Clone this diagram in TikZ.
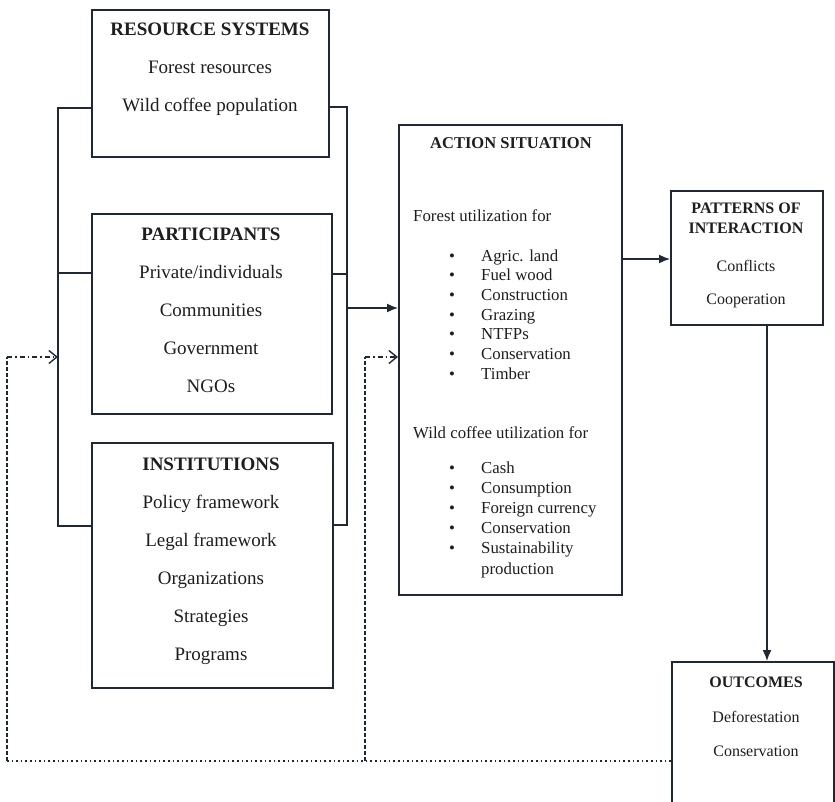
\documentclass[tikz,border=0pt]{standalone}
\usepackage{fontspec}
\setmainfont{Liberation Serif}
\usepackage{tikz}
\usetikzlibrary{%
  arrows.meta,
  positioning,
  calc
}
\definecolor{inkline}{HTML}{1E2935}
\definecolor{inktext}{HTML}{1E1E1E}
\tikzset{
  box/.style={
    draw=inkline,
    line width=1.5pt,
    rectangle,
    anchor=north west,
    inner sep=0pt,
  },
  bigtxt/.style={
    anchor=base, inner sep=0pt, align=center,
    font=\fontsize{19}{38}\selectfont,
  },
  midtxt/.style={
    anchor=base, inner sep=0pt, align=center,
    font=\fontsize{16}{20}\selectfont,
  },
  acttxt/.style={
    anchor=base west, inner sep=0pt,
    font=\fontsize{16.8}{20}\selectfont,
  },
  bul/.style={
    anchor=base, inner sep=0pt,
    font=\fontsize{16.8}{20}\selectfont,
  },
  link/.style={draw=inkline, line width=1.5pt},
  fbdot/.style={draw=inkline, line width=1.4pt, dash pattern=on 1.6pt off 3pt},
  fbdash/.style={draw=inkline, line width=1.4pt, dash pattern=on 4pt off 2pt},
  fbdashdot/.style={draw=inkline, line width=1.4pt,
    dash pattern=on 5pt off 3pt on 1.6pt off 3pt},
}

\begin{document}
\begin{tikzpicture}[x=1pt, y=-1pt, color=inktext]
    \useasboundingbox [fill=white] (0,0) rectangle (835,801);

    \node [box, minimum width=237pt, minimum height=147pt] (rs)   at ( 91,   9) {};
    \node [box, minimum width=240pt, minimum height=200pt] (part) at ( 91, 213) {};
    \node [box, minimum width=241pt, minimum height=245pt] (inst) at ( 91, 442) {};
    \node [box, minimum width=223pt, minimum height=470pt] (act)  at (398, 124) {};
    \node [box, minimum width=152pt, minimum height=134pt] (pat)  at (670, 190) {};
    \node [box, minimum width=162pt, minimum height=170pt] (out)  at (671, 661) {};

    \node [bigtxt] (rs-txt)   at (210, 111)
          {\textbf{RESOURCE SYSTEMS}\\Forest resources\\Wild coffee population};
    \node [bigtxt] (part-txt) at (211, 392)
          {\textbf{PARTICIPANTS}\\Private/individuals\\Communities\\Government\\NGOs};
    \node [bigtxt] (inst-txt) at (211, 660)
          {\textbf{INSTITUTIONS}\\Policy framework\\Legal framework\\Organizations\\Strategies\\Programs};

    \node [midtxt, font=\fontsize{16.5}{20}\selectfont] (act-title) at (511, 148)
          {\textbf{ACTION SITUATION}};
    \node [acttxt] (fu-head) at (413, 221) {Forest utilization for};
    \foreach \what [count=\i] in {Agric. land, Fuel wood, Construction, Grazing,
                                  NTFPs, Conservation, Timber} {
      \node [bul]    (fu-b\i) at (452, {261+19.7*(\i-1)}) {\textbullet};
      \node [acttxt] (fu-\i)  at (481, {261+19.7*(\i-1)}) {\what};
    }
    \node [acttxt] (wc-head) at (413, 438) {Wild coffee utilization for};
    \foreach \what [count=\i] in {Cash, Consumption, Foreign currency,
                                  Conservation, Sustainability} {
      \node [bul]    (wc-b\i) at (452, {473+20.2*(\i-1)}) {\textbullet};
      \node [acttxt] (wc-\i)  at (481, {473+20.2*(\i-1)}) {\what};
    }
    \node [acttxt] (wc-6) at (481, 574) {production};

    \node [midtxt] (pat-txt) at (746, 233.5)
          {\textbf{PATTERNS OF}\\\textbf{INTERACTION}};
    \node [midtxt] (pat-1) at (746, 271) {Conflicts};
    \node [midtxt] (pat-2) at (746, 304) {Cooperation};

    \node [midtxt] (out-txt) at (756, 687) {\textbf{OUTCOMES}};
    \node [midtxt] (out-1)   at (756, 722) {Deforestation};
    \node [midtxt] (out-2)   at (756, 756) {Conservation};

    \coordinate (lb1) at ( 58, 108);
    \coordinate (lb2) at ( 58, 273);
    \coordinate (lb3) at ( 58, 526);
    \coordinate (lbin) at ( 58, 357);
    \coordinate (rb1) at (347, 107);
    \coordinate (rb2) at (347, 274);
    \coordinate (rb3) at (347, 525);
    \coordinate (rbout) at (347, 308);
    \coordinate (dn)  at (767,   0);
    \coordinate (fbl) at (  7, 761);
    \coordinate (fbm) at (365, 761);
    \coordinate (fbin) at (365, 357);

    \draw [link] (rs.west |- lb1) -- (lb1) -- (lb3) -- (inst.west |- lb3);
    \draw [link] (part.west |- lb2) -- (lb2);
    \draw [link] (rs.east |- rb1) -- (rb1) -- (rb3) -- (inst.east |- rb3);
    \draw [link] (part.east |- rb2) -- (rb2);

    \begin{scope}[-{Latex[length=11pt, width=9pt]}]
      \draw [link] (rbout) -- (act.west |- rbout);
      \draw [link] (act.east |- 0, 259) -- (pat.west |- 0, 259);
      \draw [link] (pat.south -| dn) -- (out.north -| dn);
    \end{scope}

    \draw [fbdot] (out.west |- fbl) -- (fbl);
    \draw [fbdash] (fbl) -- (fbl |- lbin);
    \draw [fbdash] (fbm) -- (fbin);
    \begin{scope}[-{Straight Barb[length=8pt, width=13pt, line width=1.4pt]}]
      \draw [fbdashdot] (fbl |- lbin) -- (lbin);
      \draw [fbdashdot] (fbin) -- (act.west |- fbin);
    \end{scope}
\end{tikzpicture}
\end{document}
